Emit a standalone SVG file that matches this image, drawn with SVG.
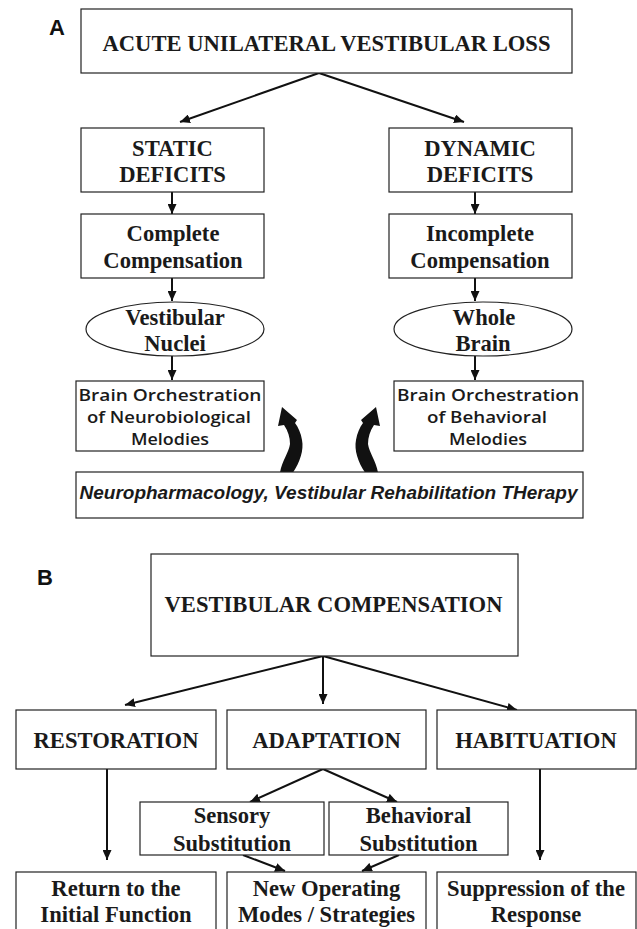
<svg xmlns="http://www.w3.org/2000/svg" xmlns:xlink="http://www.w3.org/1999/xlink" width="637" height="929" viewBox="0 0 637 929">
<style>
.box{fill:#fff;stroke:#222;stroke-width:1.2}
.t{font-family:"Liberation Serif","Times New Roman",serif;font-weight:bold;font-size:22.6px;fill:#1a1a1a;text-anchor:middle}
.c{font-family:"Open Sans","DejaVu Sans",sans-serif;font-weight:600;font-size:17px;fill:#1a1a1a;text-anchor:middle}
.i{font-family:"Liberation Sans",Arial,sans-serif;font-weight:bold;font-style:italic;font-size:19px;fill:#1a1a1a;text-anchor:middle}
.lbl{font-family:"Liberation Sans",Arial,sans-serif;font-weight:bold;font-size:22px;fill:#111}
.ar{fill:none;stroke:#111;stroke-width:2;marker-end:url(#ah)}
</style>
<defs>
<marker id="ah" markerUnits="userSpaceOnUse" markerWidth="11" markerHeight="9" refX="10" refY="4.5" orient="auto">
<path d="M0,0 L10,4.5 L0,9 z" fill="#111"/>
</marker>
<g id="curl">
<path d="M293,472.5 C300,462 304,450 302,440 C301,433 298,427 295,423 L297,420 L282,407 L278,426 L284,425 C288,431 290,437 290,444 C289,452 282,461 280,472.5 Z" fill="#111"/>
</g>
</defs>
<rect width="637" height="929" fill="#fff"/>

<text class="lbl" x="49" y="35">A</text>
<text class="lbl" x="37" y="585">B</text>

<g id="connectors">
<line class="ar" x1="319" y1="73" x2="180" y2="122"/>
<line class="ar" x1="319" y1="73" x2="464" y2="122"/>
<line class="ar" x1="172" y1="192" x2="172" y2="214"/>
<line class="ar" x1="475" y1="192" x2="475" y2="214"/>
<line class="ar" x1="172" y1="278" x2="172" y2="301"/>
<line class="ar" x1="475" y1="278" x2="475" y2="301"/>
<line class="ar" x1="172" y1="356" x2="172" y2="380"/>
<line class="ar" x1="475" y1="356" x2="475" y2="380"/>
<use xlink:href="#curl"/>
<use xlink:href="#curl" transform="translate(658,0) scale(-1,1)"/>
<line class="ar" x1="323" y1="656" x2="125" y2="705"/>
<line class="ar" x1="323" y1="656" x2="323" y2="704"/>
<line class="ar" x1="323" y1="656" x2="517" y2="710"/>
<line class="ar" x1="323" y1="769" x2="250" y2="802"/>
<line class="ar" x1="323" y1="769" x2="397" y2="802"/>
<line class="ar" x1="107" y1="769" x2="107" y2="860"/>
<line class="ar" x1="540" y1="769" x2="540" y2="860"/>
<line class="ar" x1="243" y1="855" x2="285" y2="871"/>
<line class="ar" x1="399" y1="855" x2="362" y2="871"/>
</g>

<g id="acute">
<rect class="box" x="81" y="9" width="491" height="64"/>
<text class="t" x="326.5" y="51">ACUTE UNILATERAL VESTIBULAR LOSS</text>
</g>
<g id="static">
<rect class="box" x="81" y="128" width="183" height="64"/>
<text class="t" x="172.5" y="156">STATIC</text>
<text class="t" x="172.5" y="182">DEFICITS</text>
</g>
<g id="dynamic">
<rect class="box" x="389" y="128" width="183" height="64"/>
<text class="t" x="480" y="156">DYNAMIC</text>
<text class="t" x="480" y="182">DEFICITS</text>
</g>
<g id="complete">
<rect class="box" x="81" y="214" width="183" height="64"/>
<text class="t" x="173" y="241">Complete</text>
<text class="t" x="173" y="268">Compensation</text>
</g>
<g id="incomplete">
<rect class="box" x="389" y="214" width="183" height="64"/>
<text class="t" x="480" y="241">Incomplete</text>
<text class="t" x="480" y="268">Compensation</text>
</g>
<g id="nuclei">
<ellipse class="box" cx="175" cy="329" rx="89" ry="27"/>
<text class="t" x="175" y="325">Vestibular</text>
<text class="t" x="175" y="351">Nuclei</text>
</g>
<g id="wholebrain">
<ellipse class="box" cx="483" cy="329" rx="89" ry="27"/>
<text class="t" x="484" y="325">Whole</text>
<text class="t" x="483" y="351">Brain</text>
</g>
<g id="neurobio">
<rect class="box" x="76" y="381" width="188" height="70"/>
<text class="c" x="170" y="401" textLength="183" lengthAdjust="spacingAndGlyphs">Brain Orchestration</text>
<text class="c" x="169" y="423" textLength="164" lengthAdjust="spacingAndGlyphs">of Neurobiological</text>
<text class="c" x="170" y="445" textLength="78" lengthAdjust="spacingAndGlyphs">Melodies</text>
</g>
<g id="behavioral">
<rect class="box" x="394" y="381" width="189" height="70"/>
<text class="c" x="488" y="401" textLength="182" lengthAdjust="spacingAndGlyphs">Brain Orchestration</text>
<text class="c" x="487" y="423" textLength="120" lengthAdjust="spacingAndGlyphs">of Behavioral</text>
<text class="c" x="488" y="445" textLength="78" lengthAdjust="spacingAndGlyphs">Melodies</text>
</g>
<g id="therapy">
<rect class="box" x="76" y="472" width="507" height="46"/>
<text class="i" x="328.5" y="499">Neuropharmacology, Vestibular Rehabilitation THerapy</text>
</g>

<g id="vcomp">
<rect class="box" x="151" y="554" width="367" height="102"/>
<text class="t" x="333.5" y="612">VESTIBULAR COMPENSATION</text>
</g>
<g id="restoration">
<rect class="box" x="16" y="710" width="200" height="59"/>
<text class="t" x="116" y="748">RESTORATION</text>
</g>
<g id="adaptation">
<rect class="box" x="227" y="710" width="199" height="59"/>
<text class="t" x="326.5" y="748">ADAPTATION</text>
</g>
<g id="habituation">
<rect class="box" x="437" y="710" width="199" height="59"/>
<text class="t" x="536" y="748">HABITUATION</text>
</g>
<g id="sensory">
<rect class="box" x="140" y="802" width="184" height="53"/>
<text class="t" x="232" y="823">Sensory</text>
<text class="t" x="232" y="851">Substitution</text>
</g>
<g id="behsub">
<rect class="box" x="329" y="802" width="179" height="53"/>
<text class="t" x="418.5" y="823">Behavioral</text>
<text class="t" x="418.5" y="851">Substitution</text>
</g>
<g id="return">
<rect class="box" x="16" y="872" width="200" height="70"/>
<text class="t" x="116" y="896">Return to the</text>
<text class="t" x="116" y="922">Initial Function</text>
</g>
<g id="newmodes">
<rect class="box" x="227" y="872" width="199" height="70"/>
<text class="t" x="326.5" y="896">New Operating</text>
<text class="t" x="326.5" y="922">Modes / Strategies</text>
</g>
<g id="suppression">
<rect class="box" x="437" y="872" width="199" height="70"/>
<text class="t" x="536" y="896">Suppression of the</text>
<text class="t" x="536" y="922">Response</text>
</g>
</svg>
